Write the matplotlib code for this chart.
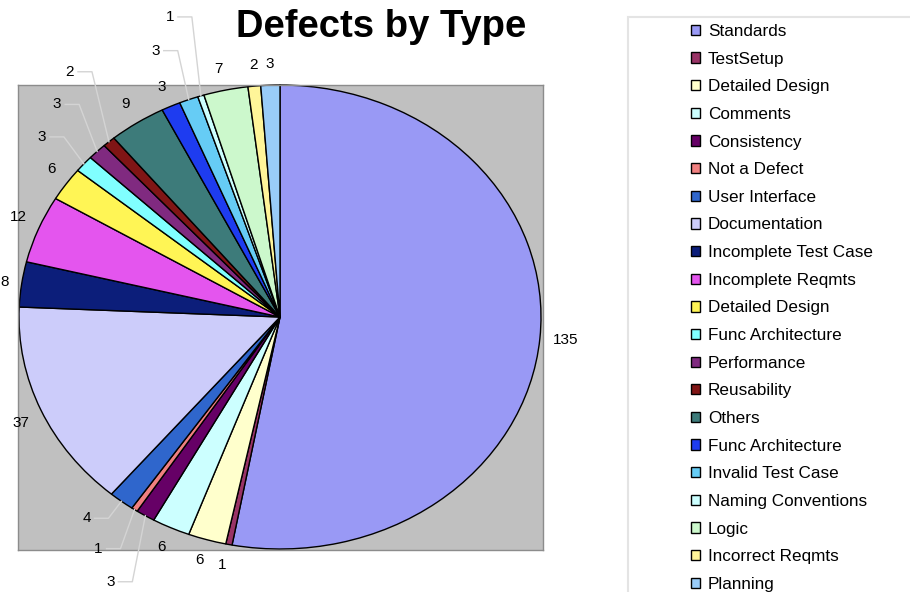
import matplotlib
matplotlib.use('Agg')
import numpy as np
import matplotlib.pyplot as plt
from matplotlib.patches import Rectangle
from matplotlib.transforms import offset_copy

plt.rcParams['font.family'] = ['Liberation Sans', 'DejaVu Sans']

categories = ['Standards', 'TestSetup', 'Detailed Design', 'Comments', 'Consistency',
              'Not a Defect', 'User Interface', 'Documentation', 'Incomplete Test Case',
              'Incomplete Reqmts', 'Detailed Design', 'Func Architecture', 'Performance',
              'Reusability', 'Others', 'Func Architecture', 'Invalid Test Case',
              'Naming Conventions', 'Logic', 'Incorrect Reqmts', 'Planning']
counts = [135, 1, 6, 6, 3, 1, 4, 37, 8, 12, 6, 3, 3, 2, 9, 3, 3, 1, 7, 2, 3]
colors = ['#9999f5', '#993366', '#ffffcc', '#ccffff', '#660066', '#f08080', '#2f66cc',
          '#ccccfa', '#0c1e7a', '#e455ee', '#fff555', '#80ffff', '#802a80', '#801515',
          '#3d7b7a', '#1e3cf0', '#66ccf5', '#ccffff', '#ccf8cc', '#fff599', '#99ccf8']

# leader-line labels: index -> text offset (pixels) from the rim point
leader_offsets = {4: (-35, -66), 5: (-36, -39), 6: (-35, -17),
                  11: (-42, 27), 12: (-40, 47), 13: (-39, 70),
                  16: (-33, 49), 17: (-31, 79)}

W, H = 910, 592
fig = plt.figure(figsize=(W / 100, H / 100), dpi=100)

# pie area (gray plot area)
x0, x1, y0, y1 = 18, 543, 85, 550
ax = fig.add_axes([x0 / W, 1 - y1 / H, (x1 - x0) / W, (y1 - y0) / H])

wedges, _ = ax.pie(counts, colors=colors, startangle=90, counterclock=False,
                   wedgeprops=dict(edgecolor='black', linewidth=1))
ax.set_aspect('auto')
ax.set_frame_on(True)
ax.set_facecolor('#c0c0c0')
for s in ax.spines.values():
    s.set_color('#8c8c8c')
    s.set_linewidth(1)
cx, cy, rx, ry = 280, 317, 261, 232
ax.set_xlim((x0 - cx) / rx, (x1 - cx) / rx)
ax.set_ylim((cy - y1) / ry, (cy - y0) / ry)
ax.set_xticks([])
ax.set_yticks([])

total = sum(counts)
cum = np.cumsum([0] + counts)
for i, v in enumerate(counts):
    frac = (cum[i] + v / 2) / total
    th = 2 * np.pi * frac
    sx, sy = np.sin(th), np.cos(th)
    if i in leader_offsets:
        dx, dy = leader_offsets[i]
        tpos = offset_copy(ax.transData, fig=fig, x=dx, y=dy, units='dots')
        ax.text(sx, sy, str(v), transform=tpos, ha='center', va='center',
                fontsize=11, clip_on=False)
        p1 = offset_copy(ax.transData, fig=fig, x=dx + 8, y=dy, units='dots')
        p2 = offset_copy(ax.transData, fig=fig, x=dx + 22, y=dy, units='dots')
        d1 = p1.transform((sx, sy))
        d2 = p2.transform((sx, sy))
        d3 = ax.transData.transform((sx, sy))
        fig.add_artist(plt.Line2D([d1[0] / W, d2[0] / W, d3[0] / W],
                                  [d1[1] / H, d2[1] / H, d3[1] / H],
                                  transform=fig.transFigure, color='#d4d4d4', lw=1))
    else:
        ha = 'left' if sx > 0.15 else ('right' if sx < -0.15 else 'center')
        va = 'bottom' if sy > 0.15 else ('top' if sy < -0.15 else 'center')
        tpos = offset_copy(ax.transData, fig=fig, x=13 * sx, y=14 * sy, units='dots')
        ax.text(sx, sy, str(v), transform=tpos, ha=ha, va=va, fontsize=11,
                clip_on=False)

fig.text(381 / W, 1 - 27 / H, 'Defects by Type', ha='center', va='center',
         fontsize=27.5, fontweight='bold')

# legend frame
fig.patches.append(Rectangle((628 / W, -0.1), 0.5, 1 - 17 / H + 0.1,
                             transform=fig.transFigure, facecolor='none',
                             edgecolor='#e4e4e4', lw=1.5))
fig.legend(wedges, categories, loc='upper left',
           bbox_to_anchor=(691 / W, 1 - 24 / H), frameon=False, fontsize=12.3,
           handlelength=0.55, handleheight=0.55, handletextpad=0.45,
           labelspacing=0.74, borderpad=0, borderaxespad=0)

fig.savefig('out.png', dpi=100)
